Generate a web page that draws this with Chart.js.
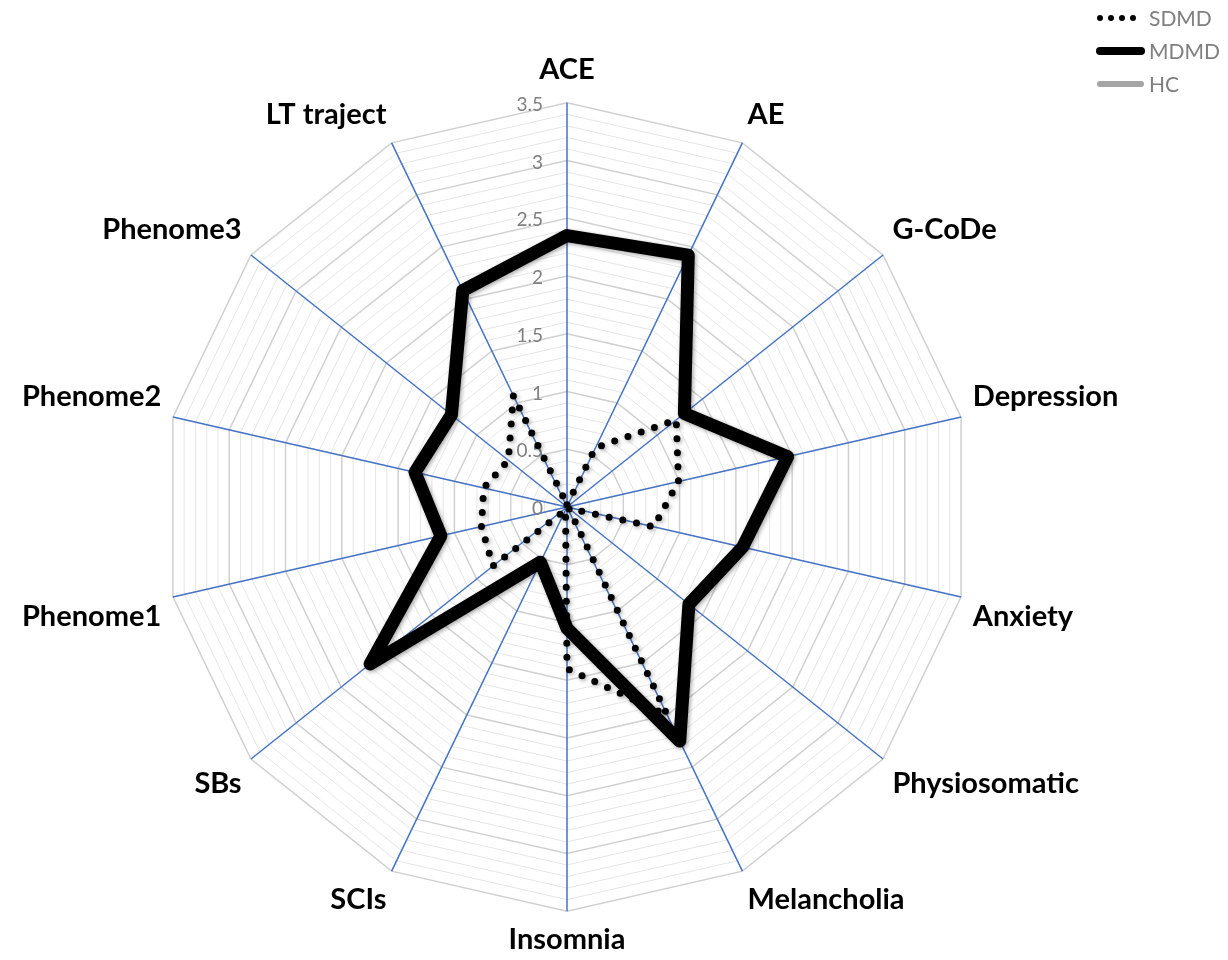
<!DOCTYPE html>
<html>
<head>
<meta charset="utf-8">
<script src="https://cdn.jsdelivr.net/npm/chart.js@4"></script>
<style>
  html, body { margin: 0; padding: 0; background: #fff; }
  #wrap { width: 1228px; height: 960px; }
</style>
</head>
<body>
<div id="wrap"><canvas id="chart" width="1228" height="960"></canvas></div>
<script>
const axes = ['ACE', 'AE', 'G-CoDe', 'Depression', 'Anxiety', 'Physiosomatic', 'Melancholia',
              'Insomnia', 'SCIs', 'SBs', 'Phenome1', 'Phenome2', 'Phenome3', 'LT traject'];
const sdmd = [0.02, 0.57, 1.21, 0.99, 0.77, 0.02, 2.0, 1.4, 0.03, 0.82, 0.76, 0.74, 0.65, 1.07];
const mdmd = [2.35, 2.42, 1.30, 1.96, 1.56, 1.35, 2.25, 1.05, 0.53, 2.18, 1.12, 1.35, 1.28, 2.08];
const hc   = [0, 0, 0, 0, 0, 0, 0, 0, 0, 0, 0, 0, 0, 0];
const tickLabels = ['0', '0.5', '1', '1.5', '2', '2.5', '3', '3.5'];

const isMajor = v => Math.abs(v * 2 - Math.round(v * 2)) < 1e-6;

// tick labels sit left of the vertical axis, like the excel original
const tickText = {
    id: 'tickText',
    beforeDatasetsDraw(chart) {
        const r = chart.scales.r;
        const c = chart.ctx;
        c.save();
        c.font = '19px Lato';
        c.fillStyle = '#808080';
        c.textAlign = 'right';
        c.textBaseline = 'middle';
        tickLabels.forEach(t => {
            const d = r.getDistanceFromCenterForValue(parseFloat(t));
            c.fillText(t, r.xCenter - 24, r.yCenter - d + 2);
        });
        c.restore();
    }
};

// soft drop shadow under the series lines
const lineShadow = {
    id: 'lineShadow',
    beforeDatasetDraw(chart) {
        const c = chart.ctx;
        c.save();
        c.shadowColor = 'rgba(0,0,0,0.35)';
        c.shadowBlur = 4;
        c.shadowOffsetX = 1.5;
        c.shadowOffsetY = 1.5;
    },
    afterDatasetDraw(chart) {
        chart.ctx.restore();
    }
};

// legend sits over the top right corner and takes no room from the plot
const cornerLegend = {
    id: 'cornerLegend',
    afterDraw(chart) {
        const c = chart.ctx;
        chart.data.datasets.forEach((ds, i) => {
            const y = 18 + i * 33;
            c.save();
            c.strokeStyle = ds.borderColor;
            c.lineWidth = i === 1 ? 8 : 6;
            c.lineCap = 'round';
            c.setLineDash(i === 0 ? [0, 11] : []);
            c.beginPath();
            c.moveTo(1100, y);
            c.lineTo(1141, y);
            c.stroke();
            c.setLineDash([]);
            c.fillStyle = '#7f7f7f';
            c.font = '21px Lato';
            c.textBaseline = 'middle';
            c.fillText(ds.label, 1149, y + 1);
            c.restore();
        });
    }
};

const ctx = document.getElementById('chart').getContext('2d');
const chart = new Chart(ctx, {
    type: 'radar',
    data: {
        labels: axes,
        datasets: [
            { label: 'SDMD', data: sdmd, borderColor: '#000', borderWidth: 7,
              borderDash: [0, 14], borderCapStyle: 'round', fill: false, pointRadius: 0 },
            { label: 'MDMD', data: mdmd, borderColor: '#000', borderWidth: 13,
              borderJoinStyle: 'round', fill: false, pointRadius: 0 },
            { label: 'HC', data: hc, borderColor: '#a5a5a5', borderWidth: 6,
              fill: false, pointRadius: 0 },
        ],
    },
    options: {
        responsive: false,
        animation: false,
        layout: { padding: { top: 50, bottom: 0, left: 14, right: 100 } },
        plugins: {
            tooltip: { enabled: false },
            legend: { display: false },
        },
        scales: {
            r: {
                min: 0,
                max: 3.5,
                ticks: { stepSize: 0.1, display: false },
                grid: {
                    color: (c) => isMajor(c.tick.value) ? '#d0d0d0' : '#e6e6e6',
                    lineWidth: (c) => isMajor(c.tick.value) ? 1.5 : 1,
                },
                angleLines: { color: '#4472c4', lineWidth: 1.5 },
                pointLabels: {
                    color: '#000',
                    padding: (c) => c.index === 0 ? 16 : (c.index === 7 ? 11 : 12),
                    font: { family: 'Lato', size: 29, weight: 'bold' },
                },
            },
        },
    },
    plugins: [tickText, lineShadow, cornerLegend],
});
</script>
</body>
</html>
